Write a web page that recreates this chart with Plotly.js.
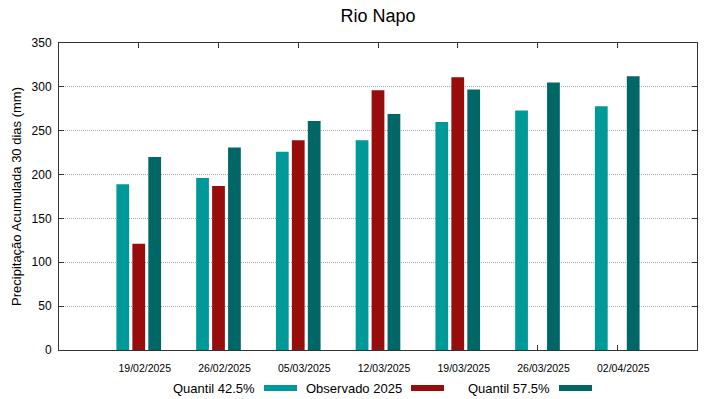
<!DOCTYPE html>
<html>
<head>
<meta charset="utf-8">
<script src="https://cdn.plot.ly/plotly-3.0.1.min.js"></script>
<style>html,body{margin:0;padding:0;background:#fff;}#chart{width:719px;height:399px;}</style>
</head>
<body>
<div id="chart"></div>
<script>
const categories = ["19/02/2025","26/02/2025","05/03/2025","12/03/2025","19/03/2025","26/03/2025","02/04/2025"];
const quantil425 = [189, 196, 226, 239, 260, 273, 278];
const observado2025 = [121, 187, 239, 296, 311, null, null];
const quantil575 = [220, 231, 261, 269, 297, 305, 312];
const seriesNames = ["Quantil 42.5%", "Observado 2025", "Quantil 57.5%"];
const seriesColors = ["#009999", "#990c0c", "#006666"];
const yTicks = [0, 50, 100, 150, 200, 250, 300, 350];

const seriesValues = [quantil425, observado2025, quantil575];
const traces = seriesValues.map((vals, i) => ({
  type: "bar",
  x: categories,
  y: vals,
  name: seriesNames[i],
  marker: {color: seriesColors[i], line: {width: 0}},
  showlegend: false,
  hoverinfo: "x+y+name"
}));

// legend drawn gnuplot-style: text then swatch (paper = plot area 59..697 x 43..350)
const legendTextRight = [257, 404, 552];
const annotations = [];
const shapes = [];
seriesNames.forEach((n, i) => {
  annotations.push({
    xref: "paper", yref: "paper",
    x: (legendTextRight[i] - 59) / 638, y: (350 - 388.5) / 307,
    xanchor: "right", yanchor: "middle",
    text: n, showarrow: false,
    font: {family: "Liberation Sans, Arial, sans-serif", size: 13, color: "#000"}
  });
  const x0 = legendTextRight[i] + 7, x1 = x0 + 33;
  shapes.push({
    type: "rect", xref: "paper", yref: "paper",
    x0: (x0 - 59) / 638, x1: (x1 - 59) / 638,
    y0: (350 - 391) / 307, y1: (350 - 385) / 307,
    fillcolor: seriesColors[i], line: {width: 0}
  });
});

const layout = {
  width: 719, height: 399,
  margin: {l: 59, r: 22, t: 43, b: 49},
  paper_bgcolor: "#fff", plot_bgcolor: "#fff",
  font: {family: "Liberation Sans, Arial, sans-serif", color: "#000"},
  title: {text: "Rio Napo", x: 378 / 719, xanchor: "center", y: 1 - 16 / 399, yanchor: "middle",
          font: {size: 18, color: "#000"}},
  barmode: "group",
  bargap: 0.4,
  bargroupgap: 0.2,
  xaxis: {
    type: "category",
    range: [-1, 7],
    showline: true, linecolor: "#333", linewidth: 1, mirror: "ticks",
    ticks: "inside", ticklen: 5, tickcolor: "#333",
    showgrid: false, zeroline: false,
    tickfont: {size: 10.5},
    ticklabelstandoff: 8,
    ticklabelshift: 6,
    fixedrange: true
  },
  yaxis: {
    range: [0, 350],
    tickvals: yTicks,
    showline: true, linecolor: "#333", linewidth: 1, mirror: "ticks",
    ticks: "inside", ticklen: 5, tickcolor: "#333",
    showgrid: true, gridcolor: "#aaa", griddash: "1px,1px", gridwidth: 1,
    zeroline: false,
    tickfont: {size: 12},
    ticklabelstandoff: 4,
    title: {text: "Precipitação Acumulada 30 dias (mm)", font: {size: 13}, standoff: 7},
    fixedrange: true
  },
  annotations: annotations,
  shapes: shapes
};

Plotly.newPlot("chart", traces, layout, {displayModeBar: false, staticPlot: true});
</script>
</body>
</html>
